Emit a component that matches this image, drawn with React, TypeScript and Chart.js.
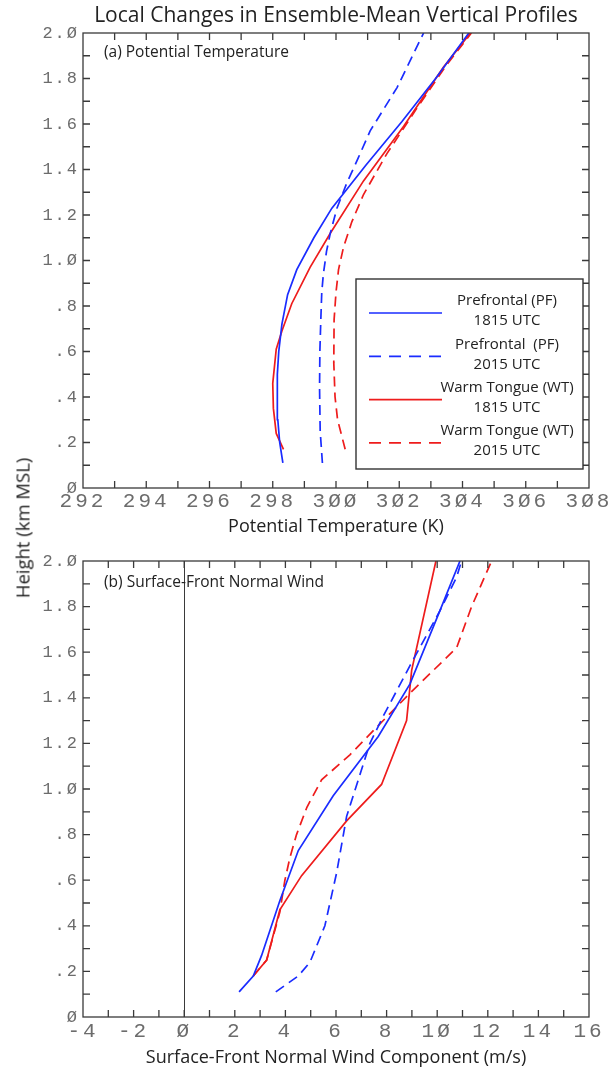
import React, { useEffect, useRef } from "react";
import { Chart, registerables } from "chart.js";

Chart.register(...registerables);

// ---------- legend / series styling ----------
const legendNames = ["Prefrontal (PF)", "Prefrontal  (PF)", "Warm Tongue (WT)", "Warm Tongue (WT)"];
const legendTimes = ["1815 UTC", "2015 UTC", "1815 UTC", "2015 UTC"];
const seriesColors = ["#1a2cff", "#1a2cff", "#ee1c1c", "#ee1c1c"];
const seriesDashed = [false, true, false, true];

// ---------- tick labels ----------
const heightTickLabels = ["Ø", ".2", ".4", ".6", ".8", "1.Ø", "1.2", "1.4", "1.6", "1.8", "2.Ø"];
const thetaTickLabels = ["292", "294", "296", "298", "3ØØ", "3Ø2", "3Ø4", "3Ø6", "3Ø8"];
const windTickLabels = ["-4", "-2", "Ø", "2", "4", "6", "8", "1Ø", "12", "14", "16"];

// ---------- panel (a): potential temperature (K) ----------
const pf1815ThetaHeight = [0.11, 0.2, 0.3, 0.4, 0.5, 0.6, 0.72, 0.85, 0.96, 1.1, 1.23, 1.42, 1.61, 1.8, 2.0];
const pf1815Theta = [298.32, 298.22, 298.16, 298.14, 298.15, 298.19, 298.29, 298.47, 298.76, 299.3, 299.87, 300.95, 302.08, 303.15, 304.2];

const pf2015ThetaHeight = [0.11, 0.25, 0.44, 0.6, 0.74, 0.86, 0.94, 1.04, 1.12, 1.23, 1.34, 1.45, 1.57, 1.76, 2.0];
const pf2015Theta = [299.57, 299.5, 299.48, 299.49, 299.52, 299.55, 299.6, 299.7, 299.82, 300.03, 300.34, 300.7, 301.08, 301.93, 302.77];

const wt1815ThetaHeight = [0.17, 0.24, 0.35, 0.46, 0.61, 0.69, 0.81, 0.97, 1.12, 1.35, 1.59, 1.85, 2.0];
const wt1815Theta = [298.34, 298.11, 298.02, 298.0, 298.11, 298.29, 298.6, 299.18, 299.82, 300.87, 302.14, 303.4, 304.25];

const wt2015ThetaHeight = [0.17, 0.3, 0.4, 0.55, 0.74, 0.86, 0.96, 1.06, 1.17, 1.29, 1.47, 1.67, 1.86, 2.0];
const wt2015Theta = [300.29, 300.05, 299.97, 299.93, 299.94, 300.0, 300.08, 300.24, 300.5, 300.87, 301.61, 302.56, 303.5, 304.28];

// ---------- panel (b): surface-front normal wind (m/s) ----------
const pf1815WindHeight = [0.11, 0.18, 0.27, 0.51, 0.73, 0.97, 1.23, 1.46, 1.78, 2.0];
const pf1815Wind = [2.17, 2.73, 3.06, 3.78, 4.51, 5.89, 7.67, 8.92, 10.1, 10.9];

const pf2015WindHeight = [0.11, 0.18, 0.24, 0.4, 0.63, 0.88, 1.04, 1.2, 1.32, 1.54, 1.78, 1.93, 2.0];
const pf2015Wind = [3.62, 4.51, 4.97, 5.56, 6.02, 6.42, 6.88, 7.34, 7.87, 8.92, 10.1, 10.77, 10.96];

const wt1815WindHeight = [0.18, 0.25, 0.47, 0.62, 0.86, 1.02, 1.3, 1.52, 2.0];
const wt1815Wind = [2.73, 3.26, 3.78, 4.64, 6.42, 7.8, 8.79, 8.99, 9.95];

const wt2015WindHeight = [0.18, 0.25, 0.46, 0.6, 0.7, 0.8, 0.92, 1.04, 1.15, 1.27, 1.42, 1.62, 1.8, 2.0];
const wt2015Wind = [2.73, 3.26, 3.78, 3.98, 4.18, 4.44, 4.85, 5.43, 6.55, 7.6, 8.92, 10.77, 11.36, 12.15];

const TICK_FONT = "'Liberation Mono', 'DejaVu Sans Mono', monospace";
const TEXT_FONT = "'Open Sans', 'Noto Sans', sans-serif";
const AXIS_COLOR = "#3a3a3a";
const TICK_COLOR = "#6c6c6c";

function zip(xs: number[], ys: number[]) {
  return xs.map((x, i) => ({ x, y: ys[i] }));
}

function makeDatasets(series: { x: number[]; y: number[] }[]) {
  return series.map((s, i) => ({
    label: legendNames[i] + " " + legendTimes[i],
    data: zip(s.x, s.y),
    borderColor: seriesColors[i],
    backgroundColor: seriesColors[i],
    borderWidth: 1.7,
    borderDash: seriesDashed[i] ? [10, 6] : [],
    pointRadius: 0,
    showLine: true,
    fill: false,
    tension: 0,
  }));
}

const framePlugin = {
  id: "frame",
  afterDatasetsDraw(chart: any, _args: any, opts: any) {
    const { ctx, chartArea: a, scales } = chart;
    const xs = scales.x;
    const ys = scales.y;
    ctx.save();
    ctx.letterSpacing = "0px";
    ctx.strokeStyle = AXIS_COLOR;
    ctx.lineWidth = 1.3;
    ctx.setLineDash([]);
    if (opts.zeroLine) {
      const x0 = Math.round(xs.getPixelForValue(0)) + 0.5;
      ctx.beginPath();
      ctx.moveTo(x0, a.top);
      ctx.lineTo(x0, a.bottom);
      ctx.lineWidth = 1;
      ctx.stroke();
      ctx.lineWidth = 1.3;
    }
    ctx.strokeRect(a.left, a.top, a.right - a.left, a.bottom - a.top);
    const tl = 7;
    const nx = Math.round((xs.max - xs.min) / opts.xMinor);
    ctx.beginPath();
    for (let i = 1; i < nx; i++) {
      const px = xs.getPixelForValue(xs.min + i * opts.xMinor);
      ctx.moveTo(px, a.bottom);
      ctx.lineTo(px, a.bottom - tl);
      ctx.moveTo(px, a.top);
      ctx.lineTo(px, a.top + tl);
    }
    const ny = Math.round((ys.max - ys.min) / opts.yMinor);
    for (let i = 1; i < ny; i++) {
      const py = ys.getPixelForValue(ys.min + i * opts.yMinor);
      ctx.moveTo(a.left, py);
      ctx.lineTo(a.left + tl, py);
      ctx.moveTo(a.right, py);
      ctx.lineTo(a.right - tl, py);
    }
    ctx.stroke();

    // panel label
    ctx.fillStyle = "#222";
    ctx.font = `15.5px ${TEXT_FONT}`;
    ctx.textBaseline = "middle";
    ctx.textAlign = "left";
    ctx.fillText(opts.panelLabel, a.left + 21, a.top + opts.panelLabelDy);

    if (opts.legend) {
      const bw = 227;
      const bh = 190;
      const bx = a.right - 6 - bw;
      const by = a.bottom - 19 - bh;
      ctx.fillStyle = "#fff";
      ctx.fillRect(bx, by, bw, bh);
      ctx.strokeStyle = "#333";
      ctx.lineWidth = 1.4;
      ctx.strokeRect(bx, by, bw, bh);
      const ds = chart.data.datasets;
      for (let i = 0; i < ds.length; i++) {
        const ly = by + 34 + i * 43.3;
        ctx.strokeStyle = ds[i].borderColor;
        ctx.lineWidth = 1.7;
        ctx.setLineDash(seriesDashed[i] ? [12, 8] : []);
        ctx.beginPath();
        ctx.moveTo(bx + 13, ly);
        ctx.lineTo(bx + 86, ly);
        ctx.stroke();
        ctx.setLineDash([]);
        ctx.fillStyle = "#222";
        ctx.font = `15px ${TEXT_FONT}`;
        ctx.textAlign = "center";
        ctx.fillText(legendNames[i], bx + 151, ly - 12);
        ctx.fillText(legendTimes[i], bx + 151, ly + 8);
      }
    }
    ctx.restore();
  },
};

function spaceLabels(chart: any, spacing: Record<string, string>) {
  for (const id of Object.keys(spacing)) {
    const s = chart.scales[id];
    const orig = s.drawLabels;
    s.drawLabels = function (area: any) {
      const c = this.ctx;
      const prev = c.letterSpacing;
      c.letterSpacing = spacing[id];
      orig.call(this, area);
      c.letterSpacing = prev || "0px";
    };
  }
  chart.draw();
}

function makeConfig(p: any): any {
  return {
    type: "scatter",
    data: { datasets: makeDatasets(p.series) },
    plugins: [framePlugin],
    options: {
      responsive: false,
      animation: false,
      events: [],
      layout: { padding: { top: p.padTop, right: 22, left: 0, bottom: 0 } },
      plugins: {
        legend: { display: false },
        tooltip: { enabled: false },
        title: p.title
          ? {
              display: true,
              text: p.title,
              fullSize: false,
              color: "#222",
              font: { family: TEXT_FONT, size: 21, weight: "normal", lineHeight: 1.2 },
              padding: { top: 3.4, bottom: 4.4 },
            }
          : { display: false },
        frame: {
          xMinor: p.xMinor,
          yMinor: 0.1,
          zeroLine: p.zeroLine,
          panelLabel: p.panelLabel,
          panelLabelDy: p.panelLabelDy,
          legend: p.legend,
        },
      },
      scales: {
        x: {
          type: "linear",
          position: "bottom",
          min: p.xMin,
          max: p.xMax,
          grid: { display: false, drawTicks: false },
          border: { display: false },
          ticks: {
            stepSize: 2,
            autoSkip: false,
            maxRotation: 0,
            padding: p.xTickPad,
            color: TICK_COLOR,
            font: { family: TICK_FONT, size: 21 },
            callback: (_v: any, i: number) => p.xLabels[i],
          },
          title: {
            display: true,
            text: p.xTitle,
            color: "#222",
            font: { family: TEXT_FONT, size: 18 },
            padding: { top: 0, bottom: p.xTitlePadBottom },
          },
          afterFit: (s: any) => {
            s.height = p.xAxisHeight;
          },
        },
        y: {
          type: "linear",
          position: "left",
          min: 0,
          max: 2,
          grid: { display: false, drawTicks: false },
          border: { display: false },
          ticks: {
            stepSize: 0.2,
            autoSkip: false,
            padding: 4,
            color: TICK_COLOR,
            font: { family: TICK_FONT, size: 17 },
            callback: (_v: any, i: number) => heightTickLabels[i],
          },
          afterFit: (s: any) => {
            s.width = 83;
          },
        },
      },
    },
  };
}

export default function App() {
  const topRef = useRef<HTMLCanvasElement>(null);
  const botRef = useRef<HTMLCanvasElement>(null);

  useEffect(() => {
    document.body.style.margin = "0";
    const top = new Chart(
      topRef.current as HTMLCanvasElement,
      makeConfig({
        series: [
          { x: pf1815Theta, y: pf1815ThetaHeight },
          { x: pf2015Theta, y: pf2015ThetaHeight },
          { x: wt1815Theta, y: wt1815ThetaHeight },
          { x: wt2015Theta, y: wt2015ThetaHeight },
        ],
        title: "Local Changes in Ensemble-Mean Vertical Profiles",
        padTop: 0,
        xMin: 292,
        xMax: 308,
        xMinor: 1,
        xLabels: thetaTickLabels,
        xTitle: "Potential Temperature (K)",
        xTickPad: 1,
        xTitlePadBottom: 2,
        xAxisHeight: 52,
        zeroLine: false,
        panelLabel: "(a) Potential Temperature",
        panelLabelDy: 20,
        legend: true,
      })
    );
    const bot = new Chart(
      botRef.current as HTMLCanvasElement,
      makeConfig({
        series: [
          { x: pf1815Wind, y: pf1815WindHeight },
          { x: pf2015Wind, y: pf2015WindHeight },
          { x: wt1815Wind, y: wt1815WindHeight },
          { x: wt2015Wind, y: wt2015WindHeight },
        ],
        title: null,
        padTop: 21,
        xMin: -4,
        xMax: 16,
        xMinor: 1,
        xLabels: windTickLabels,
        xTitle: "Surface-Front Normal Wind Component (m/s)",
        xTickPad: 2,
        xTitlePadBottom: 3,
        xAxisHeight: 55,
        zeroLine: true,
        panelLabel: "(b) Surface-Front Normal Wind",
        panelLabelDy: 22,
        legend: false,
      })
    );
    spaceLabels(top, { x: "3px", y: "2px" });
    spaceLabels(bot, { x: "3px", y: "2px" });
    return () => {
      top.destroy();
      bot.destroy();
    };
  }, []);

  return (
    <div style={{ position: "relative", width: 611, height: 1072, background: "#fff", overflow: "hidden" }}>
      <canvas ref={topRef} width={611} height={540} style={{ position: "absolute", left: 0, top: 0 }} />
      <canvas ref={botRef} width={611} height={532} style={{ position: "absolute", left: 0, top: 540 }} />
      <div
        style={{
          position: "absolute",
          left: 22,
          top: 528,
          transform: "translate(-50%, -50%) rotate(-90deg)",
          whiteSpace: "nowrap",
          fontFamily: TEXT_FONT,
          fontSize: 18.5,
          color: "#222",
        }}
      >
        Height (km MSL)
      </div>
    </div>
  );
}
